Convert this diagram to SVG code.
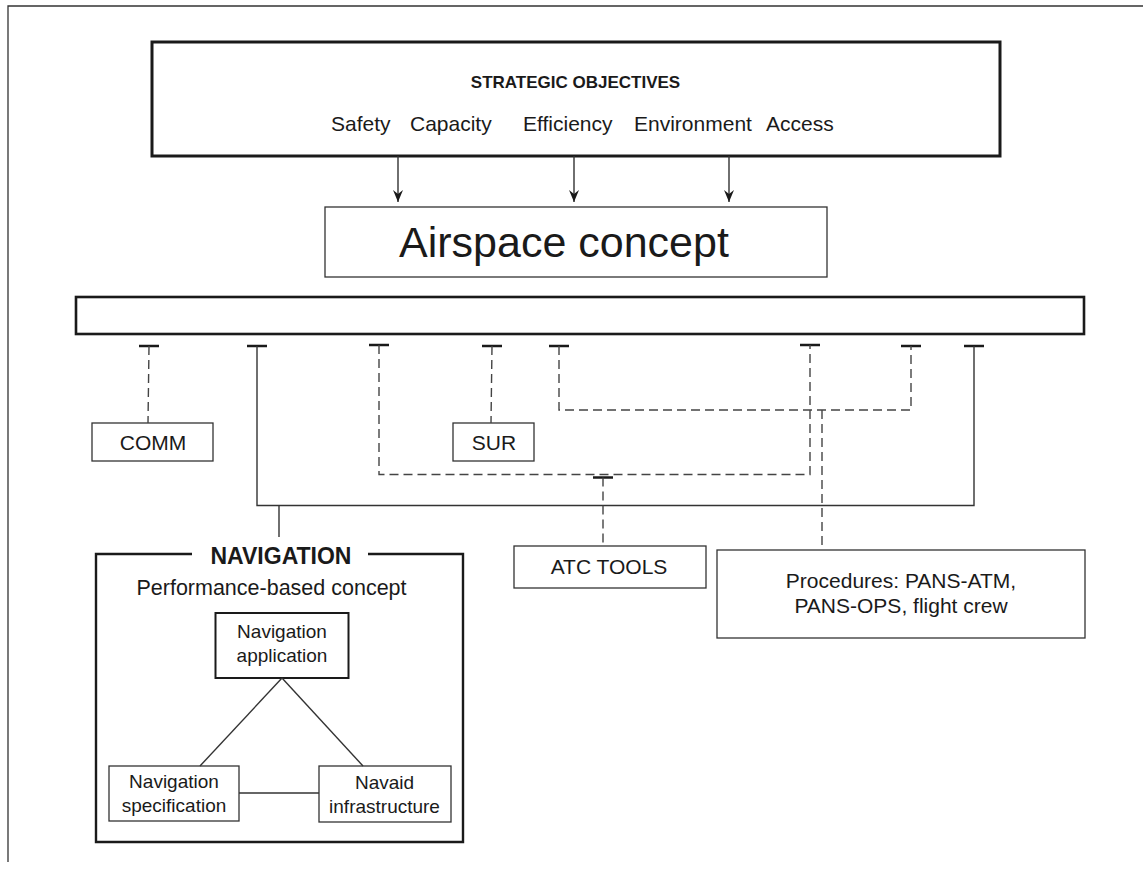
<svg xmlns="http://www.w3.org/2000/svg" width="1143" height="869" viewBox="0 0 1143 869">
<defs>
<style>
text{font-family:"Liberation Sans",Arial,sans-serif;fill:#1a1a1a}
.lbl{font-size:21px}
.sm{font-size:19px}
.mid{text-anchor:middle}
.box{fill:#fff;stroke:#333;stroke-width:1.3}
.thick{fill:#fff;stroke:#1a1a1a;stroke-width:3}
.solid{fill:none;stroke:#333;stroke-width:1.4}
.dash{fill:none;stroke:#444;stroke-width:1.4;stroke-dasharray:9 5}
.tee{stroke:#1a1a1a;stroke-width:2.5}
</style>
<marker id="arr" viewBox="0 0 10 12" refX="5" refY="12" markerWidth="10" markerHeight="12" markerUnits="userSpaceOnUse" orient="0">
<path d="M0,0 L5,4 L10,0 L5,12 Z" fill="#1a1a1a"/>
</marker>
</defs>
<rect width="1143" height="869" fill="#fff"/>
<path d="M8,862 L8,6 L1143,6" fill="none" stroke="#333" stroke-width="1.3"/>

<g id="strategic">
<rect class="thick" x="152" y="42" width="848" height="114"/>
<text x="575.5" y="88" class="mid" font-size="17" font-weight="bold">STRATEGIC OBJECTIVES</text>
<text class="lbl" x="331" y="131">Safety</text>
<text class="lbl" x="410" y="131">Capacity</text>
<text class="lbl" x="523" y="131">Efficiency</text>
<text class="lbl" x="634" y="131">Environment</text>
<text class="lbl" x="766" y="131">Access</text>
</g>

<g id="airspace">
<rect class="box" x="325" y="207" width="502" height="70"/>
<text x="399" y="257" font-size="43">Airspace concept</text>
</g>

<g id="bar">
<rect x="76" y="297" width="1008" height="37" fill="#fff" stroke="#1a1a1a" stroke-width="2.6"/>
</g>

<g id="comm">
<rect class="box" x="92" y="423" width="121" height="38"/>
<text class="lbl mid" x="153" y="450">COMM</text>
</g>

<g id="sur">
<rect class="box" x="453" y="423" width="81" height="38"/>
<text class="lbl mid" x="494" y="450">SUR</text>
</g>

<g id="atc">
<rect class="box" x="514" y="546" width="192" height="42"/>
<text class="lbl mid" x="609" y="574">ATC TOOLS</text>
</g>

<g id="procedures">
<rect class="box" x="717" y="550" width="368" height="88"/>
<text class="lbl mid" x="901" y="588">Procedures: PANS-ATM,</text>
<text class="lbl mid" x="901" y="613">PANS-OPS, flight crew</text>
</g>

<g id="navigation">
<path d="M192,554 L96,554 L96,842 L463,842 L463,554 L368,554" fill="none" stroke="#1a1a1a" stroke-width="2.4"/>
<text x="281" y="564" class="mid" font-size="23" font-weight="bold">NAVIGATION</text>
<text x="271.5" y="595" class="mid" font-size="21.5">Performance-based concept</text>
</g>

<g id="nav-application">
<rect x="215.5" y="613" width="133" height="65" fill="#fff" stroke="#1a1a1a" stroke-width="2"/>
<text class="sm mid" x="282" y="638">Navigation</text>
<text class="sm mid" x="282" y="662">application</text>
</g>

<g id="nav-specification">
<rect class="box" x="109" y="766" width="130" height="55"/>
<text class="sm mid" x="174" y="788">Navigation</text>
<text class="sm mid" x="174" y="812">specification</text>
</g>

<g id="navaid-infrastructure">
<rect class="box" x="319" y="766" width="132" height="56"/>
<text class="sm mid" x="384.5" y="789">Navaid</text>
<text class="sm mid" x="384.5" y="813">infrastructure</text>
</g>

<g id="connectors">
<line x1="398" y1="156" x2="398" y2="202" class="solid" marker-end="url(#arr)"/>
<line x1="574" y1="156" x2="574" y2="202" class="solid" marker-end="url(#arr)"/>
<line x1="729" y1="156" x2="729" y2="202" class="solid" marker-end="url(#arr)"/>

<line class="tee" x1="139" y1="346" x2="159" y2="346"/>
<line class="tee" x1="247" y1="346" x2="267" y2="346"/>
<line class="tee" x1="369" y1="345" x2="389" y2="345"/>
<line class="tee" x1="482" y1="346" x2="502" y2="346"/>
<line class="tee" x1="549" y1="346" x2="569" y2="346"/>
<line class="tee" x1="800" y1="345" x2="820" y2="345"/>
<line class="tee" x1="901" y1="346" x2="921" y2="346"/>
<line class="tee" x1="964" y1="346" x2="984" y2="346"/>
<line class="tee" x1="593" y1="477.5" x2="613" y2="477.5"/>

<path class="dash" d="M149,346 L148,423"/>
<path class="dash" d="M492,346 L491,423"/>
<path class="solid" d="M257,346 L257,505.5 L974,505.5 L974,346"/>
<path class="solid" d="M279,505.5 L279,537"/>
<path class="dash" d="M379,345 L379,474.5 L810,474.5 L810,345"/>
<path class="dash" d="M603,477.5 L603,546"/>
<path class="dash" d="M559,346 L559,410 L911,410 L911,346"/>
<path class="dash" d="M822,410 L822,550"/>

<line class="solid" x1="282" y1="678" x2="200" y2="766"/>
<line class="solid" x1="282" y1="678" x2="363" y2="766"/>
<line class="solid" x1="239" y1="793" x2="319" y2="793"/>
</g>
</svg>
